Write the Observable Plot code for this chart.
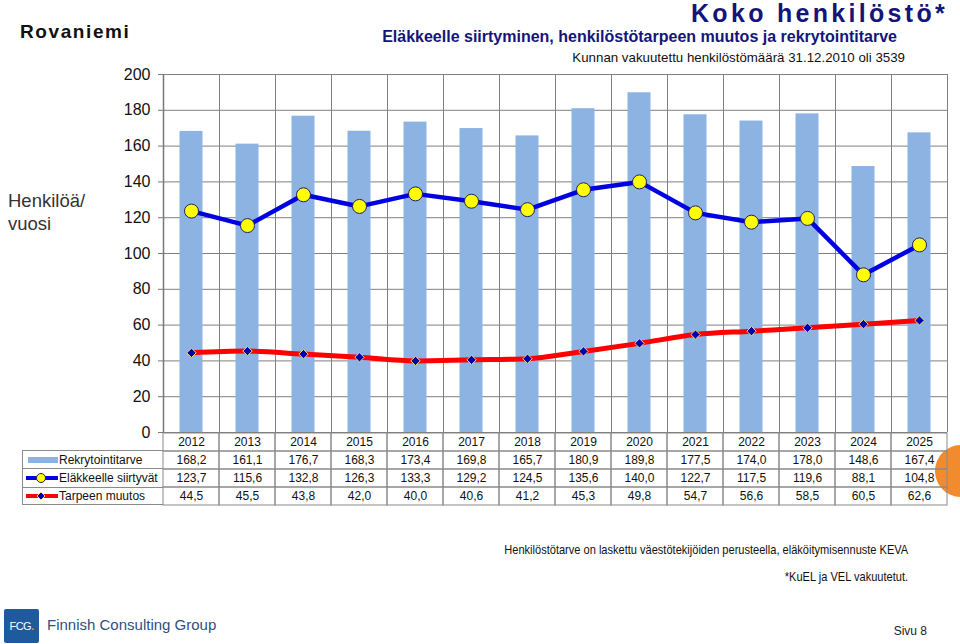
<!DOCTYPE html>
<html>
<head>
<meta charset="utf-8">
<script src="https://cdn.jsdelivr.net/npm/d3@7"></script>
<script src="https://cdn.jsdelivr.net/npm/@observablehq/plot@0.6"></script>
<style>
  html, body { margin: 0; padding: 0; background: #fff; }
  #page { position: relative; width: 960px; height: 644px; overflow: hidden; font-family: Arial, "Liberation Sans", sans-serif; background: #fff; }
  .abs { position: absolute; white-space: nowrap; line-height: 1.15; }
  .narrow { transform: scaleX(0.85); transform-origin: right center; }
  #legendcol { position: absolute; left: 22px; top: 450px; width: 141px; z-index: 2; }
  #legendcol .row { height: 18.25px; box-sizing: border-box; border-left: 1px solid #8a8a8a; border-top: 1px solid #8a8a8a; display: flex; align-items: center; font-size: 12px; color: #111; white-space: nowrap; }
  #legendcol .row:last-child { border-bottom: 1px solid #8a8a8a; }
  #legendcol svg { flex: none; margin-right: 1px; }
</style>
</head>
<body>
<div id="page"></div>
<script>
// ---------- data ----------
const years = ["2012","2013","2014","2015","2016","2017","2018","2019","2020","2021","2022","2023","2024","2025"];
const seriesNames = ["Rekrytointitarve", "Eläkkeelle siirtyvät", "Tarpeen muutos"];
const rekrytointitarve = [168.2, 161.1, 176.7, 168.3, 173.4, 169.8, 165.7, 180.9, 189.8, 177.5, 174.0, 178.0, 148.6, 167.4];
const elakkeelleSiirtyvat = [123.7, 115.6, 132.8, 126.3, 133.3, 129.2, 124.5, 135.6, 140.0, 122.7, 117.5, 119.6, 88.1, 104.8];
const tarpeenMuutos = [44.5, 45.5, 43.8, 42.0, 40.0, 40.6, 41.2, 45.3, 49.8, 54.7, 56.6, 58.5, 60.5, 62.6];
const yTicks = [0, 20, 40, 60, 80, 100, 120, 140, 160, 180, 200];

const colBar = "#8DB3E2", colBlue = "#0000E0", colRed = "#FF0000", colYellow = "#FFFF00", colDiamond = "#0000A8";
const fmt = v => d3.format(".1f")(v).replace(".", ",");

const page = document.getElementById("page");
function addText(txt, css, cls) {
  const d = document.createElement("div");
  d.className = "abs " + (cls || "");
  d.textContent = txt;
  Object.assign(d.style, css);
  page.appendChild(d);
  return d;
}

// ---------- texts ----------
addText("Rovaniemi", {left: "20px", top: "21px", fontSize: "19px", fontWeight: "bold", letterSpacing: "1.6px", color: "#111"});
addText("Koko henkilöstö*", {right: "12px", top: "1px", fontSize: "25px", lineHeight: "25px", fontWeight: "bold", letterSpacing: "3.3px", color: "#14147A"});
addText("Eläkkeelle siirtyminen, henkilöstötarpeen muutos ja rekrytointitarve", {right: "63px", top: "28px", fontSize: "16px", fontWeight: "bold", color: "#14147A"});
addText("Kunnan vakuutettu henkilöstömäärä 31.12.2010 oli 3539", {right: "55px", top: "50px", fontSize: "13.3px", color: "#111"});
addText("Henkilöä/", {left: "8px", top: "190px", fontSize: "18.5px", color: "#333"});
addText("vuosi", {left: "8px", top: "213px", fontSize: "18.5px", color: "#333"});
addText("Henkilöstötarve on laskettu väestötekijöiden perusteella, eläköitymisennuste KEVA", {right: "52px", top: "543px", fontSize: "13px", color: "#111"}, "narrow");
addText("*KuEL ja VEL vakuutetut.", {right: "52px", top: "570px", fontSize: "13px", color: "#111"}, "narrow");
addText("Sivu 8", {right: "33px", top: "625px", fontSize: "12px", color: "#222"});

// orange decoration
const orange = document.createElement("div");
Object.assign(orange.style, {position: "absolute", left: "935px", top: "445px", width: "52px", height: "52px", borderRadius: "50%", background: "#F28A2E", zIndex: 0});
page.appendChild(orange);

// logo
const logo = document.createElement("div");
Object.assign(logo.style, {position: "absolute", left: "4px", top: "609px", width: "35px", height: "34px", background: "#1E5A9C", borderRadius: "2px", color: "#fff", fontSize: "11px", lineHeight: "34px", textAlign: "center", letterSpacing: "-0.6px"});
logo.innerHTML = 'FCG<span style="color:#F28A2E;font-weight:bold">.</span>';
page.appendChild(logo);
addText("Finnish Consulting Group", {left: "47px", top: "616px", fontSize: "15px", color: "#2F4F80"});

// ---------- main chart ----------
const W = 960, mL = 163, mR = 13;
const bw = (W - mL - mR) / years.length;
const barData = years.map((y, i) => ({year: y, value: rekrytointitarve[i]}));
const elData = years.map((y, i) => ({year: y, value: elakkeelleSiirtyvat[i]}));
const tmData = years.map((y, i) => ({year: y, value: tarpeenMuutos[i]}));

const chart = Plot.plot({
  width: W, height: 434,
  marginTop: 74, marginBottom: 2, marginLeft: mL, marginRight: mR,
  style: {background: "transparent", fontFamily: "Arial, 'Liberation Sans', sans-serif", fontSize: "16px", color: "#111", overflow: "visible"},
  x: {type: "band", domain: years, padding: 0, axis: null},
  y: {domain: [0, 200], label: null},
  marks: [
    Plot.ruleY(yTicks.slice(1), {stroke: "#808080", strokeWidth: 1}),
    Plot.ruleX(years, {x: d => d, dx: -bw / 2, stroke: "#808080", strokeWidth: 1}),
    Plot.ruleX([years[years.length - 1]], {x: d => d, dx: bw / 2, stroke: "#808080", strokeWidth: 1}),
    Plot.barY(barData, {x: "year", y: "value", fill: colBar, insetLeft: 16.5, insetRight: 16.5}),
    Plot.ruleY([0], {stroke: "#777", strokeWidth: 1.2}),
    Plot.ruleX([years[0]], {x: d => d, dx: -bw / 2, stroke: "#777", strokeWidth: 1.5}),
    Plot.axisY({ticks: yTicks, tickSize: 5, tickPadding: 8, label: null, stroke: "#777", tickFormat: d => d}),
    Plot.line(tmData, {x: "year", y: "value", stroke: colRed, strokeWidth: 5, curve: "monotone-x"}),
    Plot.dot(tmData, {x: "year", y: "value", symbol: "diamond2", r: 4.2, fill: colDiamond, stroke: "#E6D68A", strokeWidth: 1}),
    Plot.line(elData, {x: "year", y: "value", stroke: colBlue, strokeWidth: 4.5}),
    Plot.dot(elData, {x: "year", y: "value", r: 7, fill: colYellow, stroke: "#22225A", strokeWidth: 1})
  ]
});
Object.assign(chart.style, {position: "absolute", left: "0px", top: "0px", zIndex: 1});
page.appendChild(chart);

// ---------- data table ----------
const rowKeys = ["year", ...seriesNames];
const tableData = [];
years.forEach((y, i) => {
  tableData.push({year: y, row: "year", label: y});
  tableData.push({year: y, row: seriesNames[0], label: fmt(rekrytointitarve[i])});
  tableData.push({year: y, row: seriesNames[1], label: fmt(elakkeelleSiirtyvat[i])});
  tableData.push({year: y, row: seriesNames[2], label: fmt(tarpeenMuutos[i])});
});
const table = Plot.plot({
  width: W, height: 75,
  marginTop: 1, marginBottom: 1, marginLeft: mL, marginRight: mR,
  style: {background: "transparent", fontFamily: "Arial, 'Liberation Sans', sans-serif", fontSize: "12px", color: "#111", overflow: "visible"},
  x: {type: "band", domain: years, padding: 0, axis: null},
  y: {type: "band", domain: rowKeys, padding: 0, axis: null},
  marks: [
    Plot.cell(tableData, {x: "year", y: "row", fill: "none", stroke: "#8a8a8a", strokeWidth: 1}),
    Plot.text(tableData, {x: "year", y: "row", text: "label", fill: "#111", fontSize: 12})
  ]
});
Object.assign(table.style, {position: "absolute", left: "0px", top: "431px", zIndex: 2});
page.appendChild(table);

// legend column of the table
const lc = document.createElement("div");
lc.id = "legendcol";
const swatches = [
  '<svg width="35" height="12"><rect x="5" y="3" width="30" height="6" fill="' + colBar + '"/></svg>',
  '<svg width="35" height="12"><line x1="3" y1="6" x2="35" y2="6" stroke="' + colBlue + '" stroke-width="4"/><circle cx="18" cy="6" r="4.5" fill="' + colYellow + '" stroke="#22225A" stroke-width="1"/></svg>',
  '<svg width="35" height="12"><line x1="3" y1="6" x2="35" y2="6" stroke="' + colRed + '" stroke-width="4"/><path d="M18 2 L22 6 L18 10 L14 6 Z" fill="' + colDiamond + '" stroke="#E6D68A" stroke-width="1"/></svg>'
];
seriesNames.forEach((name, i) => {
  const r = document.createElement("div");
  r.className = "row";
  r.innerHTML = swatches[i];
  const s = document.createElement("span");
  s.textContent = name;
  r.appendChild(s);
  lc.appendChild(r);
});
page.appendChild(lc);
</script>
</body>
</html>
